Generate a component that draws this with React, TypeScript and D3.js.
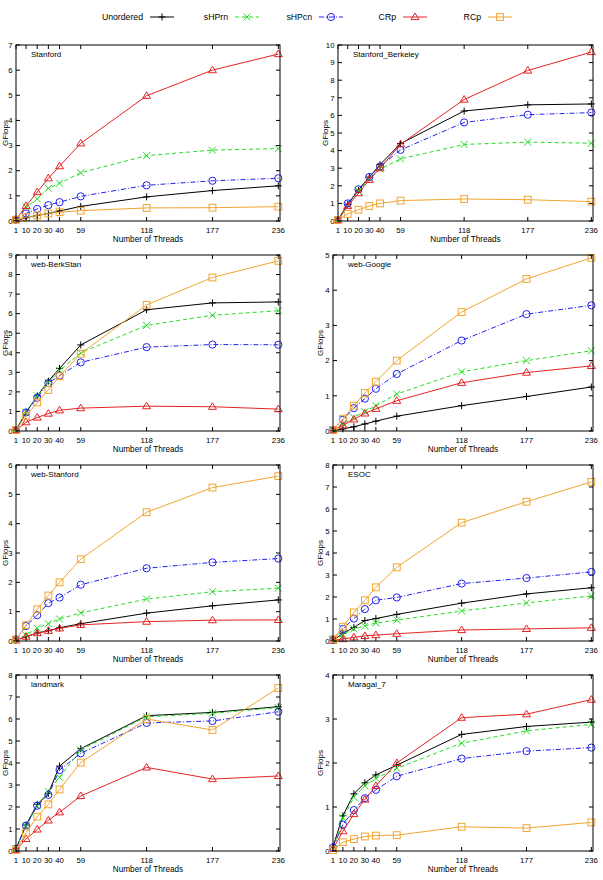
import React from "react";
import * as d3 from "d3";

// Thread counts shared by every panel (x axis)
const threads = [1, 10, 20, 30, 40, 59, 118, 177, 236];
const seriesNames = ["Unordered", "sHPrn", "sHPcn", "CRp", "RCp"];

// GFlops per series, in the order of seriesNames
const stanford = [
  [0.02, 0.13, 0.22, 0.3, 0.4, 0.58, 0.96, 1.21, 1.4],
  [0.05, 0.55, 0.88, 1.3, 1.5, 1.92, 2.6, 2.82, 2.88],
  [0.05, 0.3, 0.48, 0.63, 0.75, 0.98, 1.42, 1.6, 1.7],
  [0.06, 0.6, 1.15, 1.7, 2.18, 3.09, 4.98, 6.0, 6.64],
  [0.05, 0.15, 0.22, 0.3, 0.35, 0.41, 0.52, 0.53, 0.57],
];
const stanfordBerkeley = [
  [0.05, 0.95, 1.75, 2.5, 3.2, 4.4, 6.25, 6.6, 6.65],
  [0.05, 0.9, 1.7, 2.4, 2.95, 3.53, 4.35, 4.48, 4.42],
  [0.05, 1.0, 1.8, 2.5, 3.1, 4.04, 5.6, 6.04, 6.16],
  [0.05, 0.85, 1.58, 2.34, 3.0, 4.36, 6.9, 8.55, 9.6],
  [0.05, 0.4, 0.64, 0.85, 1.0, 1.16, 1.25, 1.21, 1.1],
];
const webBerkStan = [
  [0.05, 0.95, 1.8, 2.55, 3.2, 4.4, 6.2, 6.55, 6.6],
  [0.05, 0.95, 1.8, 2.5, 3.1, 4.0, 5.4, 5.92, 6.15],
  [0.05, 0.95, 1.7, 2.45, 2.83, 3.51, 4.29, 4.42, 4.41],
  [0.05, 0.45, 0.69, 0.89, 1.06, 1.17, 1.27, 1.24, 1.12],
  [0.05, 0.77, 1.46, 2.1, 2.8, 3.95, 6.45, 7.85, 8.7],
];
const webGoogle = [
  [0.01, 0.06, 0.12, 0.2, 0.28, 0.42, 0.72, 0.98, 1.25],
  [0.03, 0.2, 0.38, 0.55, 0.72, 1.05, 1.68, 2.0, 2.28],
  [0.03, 0.32, 0.65, 0.92, 1.2, 1.62, 2.57, 3.32, 3.57],
  [0.02, 0.16, 0.33, 0.5, 0.63, 0.86, 1.37, 1.66, 1.85],
  [0.03, 0.35, 0.72, 1.08, 1.4, 2.0, 3.38, 4.32, 4.92],
];
const webStanford = [
  [0.02, 0.15, 0.27, 0.35, 0.45, 0.59, 0.95, 1.2, 1.4],
  [0.03, 0.2, 0.44, 0.59, 0.75, 0.96, 1.43, 1.68, 1.8],
  [0.05, 0.51, 0.88, 1.29, 1.48, 1.92, 2.48, 2.68, 2.81],
  [0.03, 0.15, 0.27, 0.35, 0.43, 0.55, 0.66, 0.71, 0.72],
  [0.05, 0.54, 1.08, 1.55, 2.0, 2.79, 4.39, 5.23, 5.62],
];
const esoc = [
  [0.03, 0.35, 0.62, 0.93, 1.02, 1.21, 1.72, 2.14, 2.42],
  [0.03, 0.3, 0.55, 0.68, 0.82, 0.95, 1.36, 1.73, 2.05],
  [0.05, 0.55, 1.02, 1.45, 1.85, 1.98, 2.61, 2.86, 3.14],
  [0.03, 0.09, 0.17, 0.23, 0.27, 0.33, 0.5, 0.55, 0.6],
  [0.08, 0.65, 1.3, 1.85, 2.44, 3.35, 5.38, 6.33, 7.23],
];
const landmark = [
  [0.1, 1.18, 2.12, 2.62, 3.86, 4.65, 6.15, 6.3, 6.56],
  [0.1, 1.15, 2.05, 2.7, 3.35, 4.59, 6.1, 6.26, 6.52],
  [0.1, 1.15, 2.06, 2.55, 3.68, 4.44, 5.82, 5.91, 6.33],
  [0.05, 0.55, 0.98, 1.39, 1.76, 2.5, 3.8, 3.27, 3.41],
  [0.05, 0.83, 1.56, 2.12, 2.8, 4.02, 6.0, 5.5, 7.41],
];
const maragal7 = [
  [0.1, 0.8, 1.3, 1.55, 1.73, 1.95, 2.65, 2.83, 2.93],
  [0.05, 0.75, 1.22, 1.48, 1.65, 1.88, 2.45, 2.73, 2.88],
  [0.08, 0.6, 0.93, 1.2, 1.39, 1.7, 2.1, 2.27, 2.35],
  [0.05, 0.45, 0.84, 1.17, 1.48, 2.0, 3.03, 3.11, 3.44],
  [0.02, 0.2, 0.27, 0.33, 0.35, 0.36, 0.55, 0.52, 0.65],
];

const panelTitles = [
  "Stanford", "Stanford_Berkeley", "web-BerkStan", "web-Google",
  "web-Stanford", "ESOC", "landmark", "Maragal_7",
];
const panelData = [stanford, stanfordBerkeley, webBerkStan, webGoogle, webStanford, esoc, landmark, maragal7];
const panelYMax = [7, 10, 9, 5, 6, 8, 8, 4];

const colors = ["#000000", "#22dd22", "#2222ee", "#e62424", "#f2a530"];
const dashes = ["none", "4,3", "5,2,1,2", "none", "none"];
const FONT = "'Liberation Sans', Arial, Helvetica, sans-serif";

function Marker({ kind, x, y, color }: { kind: number; x: number; y: number; color: string }) {
  const s = 3.5;
  if (kind === 0)
    return <path d={`M${x - s},${y}H${x + s}M${x},${y - s}V${y + s}`} stroke={color} strokeWidth={1} />;
  if (kind === 1)
    return <path d={`M${x - s},${y - s}L${x + s},${y + s}M${x - s},${y + s}L${x + s},${y - s}`} stroke={color} strokeWidth={1} />;
  if (kind === 2) return <circle cx={x} cy={y} r={3.6} fill="none" stroke={color} strokeWidth={1} />;
  if (kind === 3)
    return <path d={`M${x},${y - 4}L${x + 4},${y + 2.6}L${x - 4},${y + 2.6}Z`} fill="none" stroke={color} strokeWidth={1} />;
  return <rect x={x - 3.4} y={y - 3.4} width={6.8} height={6.8} fill="none" stroke={color} strokeWidth={1} />;
}

function Panel({ left, right, top, bottom, title, data, ymax }: {
  left: number; right: number; top: number; bottom: number; title: string; data: number[][]; ymax: number;
}) {
  const x = d3.scaleLinear().domain([1, 237.5]).range([left, right]);
  const y = d3.scaleLinear().domain([0, ymax]).range([bottom, top]);
  const yTicks = d3.range(0, ymax + 1);
  const tick = 4;
  const line = d3.line<number>().x((_, i) => x(threads[i])).y((v) => y(v));
  const labelX = Math.max(left - 10, 8);
  return (
    <g>
      {yTicks.map((t) => (
        <g key={"y" + t}>
          <line x1={left} x2={left + tick} y1={y(t)} y2={y(t)} stroke="#000" />
          <line x1={right} x2={right - tick} y1={y(t)} y2={y(t)} stroke="#000" />
          <text x={left - 3.5} y={y(t)} dy="0.35em" textAnchor="end" fontSize={7.8} fontFamily={FONT}>{t}</text>
        </g>
      ))}
      {threads.map((t) => (
        <g key={"x" + t}>
          <line x1={x(t)} x2={x(t)} y1={bottom} y2={bottom - tick} stroke="#000" />
          <line x1={x(t)} x2={x(t)} y1={top} y2={top + tick} stroke="#000" />
          <text x={x(t)} y={bottom + 12} textAnchor="middle" fontSize={7.8} fontFamily={FONT}>{t}</text>
        </g>
      ))}
      {data.map((vals, si) => (
        <g key={"s" + si}>
          <path d={line(vals) || ""} fill="none" stroke={colors[si]} strokeWidth={1} strokeDasharray={dashes[si]} />
          {vals.map((v, i) => (
            <Marker key={i} kind={si} x={x(threads[i])} y={y(v)} color={colors[si]} />
          ))}
        </g>
      ))}
      <rect x={left} y={top} width={right - left} height={bottom - top} fill="none" stroke="#000" strokeWidth={1} />
      <text x={left + 15} y={top + 12} fontSize={8} fontFamily={FONT}>{title}</text>
      <text x={(left + right) / 2} y={bottom + 20.5} textAnchor="middle" fontSize={8.2} fontFamily={FONT}>Number of Threads</text>
      <text transform={`translate(${labelX},${(top + bottom) / 2}) rotate(-90)`} textAnchor="middle" fontSize={8} fontFamily={FONT}>GFlops</text>
    </g>
  );
}

export default function App() {
  const rowTops = [45, 255, 465, 675];
  const legendX = [150, 235, 319, 403, 488];
  return (
    <div style={{ position: "absolute", left: 0, top: 0 }}>
      <svg width={603} height={880} style={{ display: "block", background: "#fff" }}>
        {seriesNames.map((name, i) => (
          <g key={name}>
            <text x={legendX[i] - 7} y={17} dy="0.35em" textAnchor="end" fontSize={8.7} fontFamily={FONT}>{name}</text>
            <line x1={legendX[i]} x2={legendX[i] + 24} y1={17} y2={17} stroke={colors[i]} strokeDasharray={dashes[i]} />
            <Marker kind={i} x={legendX[i] + 12} y={17} color={colors[i]} />
          </g>
        ))}
        {panelTitles.map((title, p) => {
          const col = p % 2;
          const row = Math.floor(p / 2);
          const top = rowTops[row];
          const left = col === 0 ? 16 : p === 1 ? 338 : 333;
          const right = col === 0 ? 280 : 593;
          return (
            <Panel key={title} left={left} right={right} top={top} bottom={top + 176}
              title={title} data={panelData[p]} ymax={panelYMax[p]} />
          );
        })}
      </svg>
    </div>
  );
}
